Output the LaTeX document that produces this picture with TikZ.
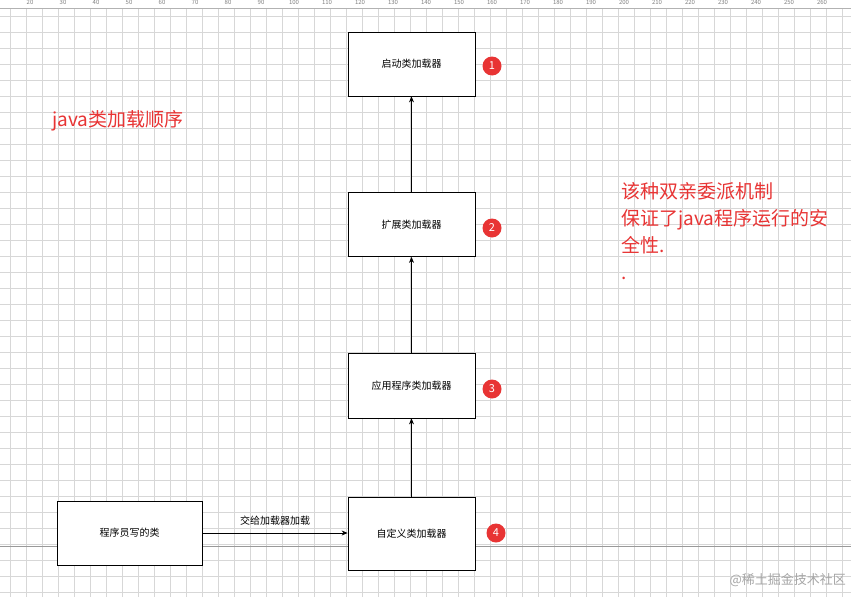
\documentclass[tikz,border=0pt]{standalone}
\usepackage{fontspec}
\setmainfont{Noto Sans CJK SC}
\usetikzlibrary{arrows.meta}
\definecolor{gridc}{RGB}{215,215,215}
\definecolor{redc}{RGB}{232,52,52}
\tikzset{
 box/.style={draw=black,fill=white,line width=0.8pt,minimum width=127pt,minimum height=64pt,inner sep=0pt,font=\fontsize{10}{12}\selectfont},
 num/.style={circle,fill=redc,text=white,minimum size=19pt,inner sep=0pt,font=\fontsize{11}{12}\selectfont},
 conn/.style={-{Stealth[length=6pt,width=5pt]},line width=0.7pt},
 redtxt/.style={text=redc,font=\fontsize{19}{27}\selectfont,inner sep=0pt,anchor=north west,align=left}
}
\begin{document}
\begin{tikzpicture}[x=1pt,y=-1pt]
\useasboundingbox (0,0) rectangle (851,597);
\fill[white] (0,0) rectangle (851,597);
\foreach \x in {10,26,...,850} \draw[gridc,line width=0.6pt] (\x,8) -- (\x,597);
\foreach \y in {16,32,...,597} \draw[gridc,line width=0.6pt] (0,\y) -- (851,\y);
\draw[gray!60] (0,8) -- (851,8);
\foreach \i [count=\k from 2] in {30,63,...,850} \node[text=gray,font=\fontsize{6}{6}\selectfont,inner sep=0pt] (r\k) at (\i,2) {\the\numexpr\k*10\relax};
\draw[gray!80,line width=0.6pt] (0,546) -- (851,546);
\node[box] (a) at (411.5,64) {启动类加载器};
\node[box] (b) at (411.5,224.5) {扩展类加载器};
\node[box,minimum height=65pt] (c) at (411.5,385.5) {应用程序类加载器};
\node[box,minimum height=73pt] (d) at (411.5,533.5) {自定义类加载器};
\node[box,minimum width=145pt] (p) at (129.5,533) {程序员写的类};
\draw[conn] (d) -- (c);
\draw[conn] (c) -- (b);
\draw[conn] (b) -- (a);
\draw[conn] (p.east) -- (p.east -| d.west) node[midway,above=4pt,font=\fontsize{10}{12}\selectfont] (lbl) {交给加载器加载};
\node[num] (n1) at (492,66) {1};
\node[num] (n2) at (492,228) {2};
\node[num] (n3) at (492,389) {3};
\node[num] (n4) at (496,533) {4};
\node[redtxt] (t1) at (52,110) {java类加载顺序};
\node[redtxt] (t2) at (621,182) {该种双亲委派机制\\保证了java程序运行的安\\全性.\\.};
\node[text=gray!70,font=\fontsize{13}{13}\selectfont,inner sep=0pt,anchor=east] (wm) at (846,580) {@稀土掘金技术社区};
\end{tikzpicture}
\end{document}
